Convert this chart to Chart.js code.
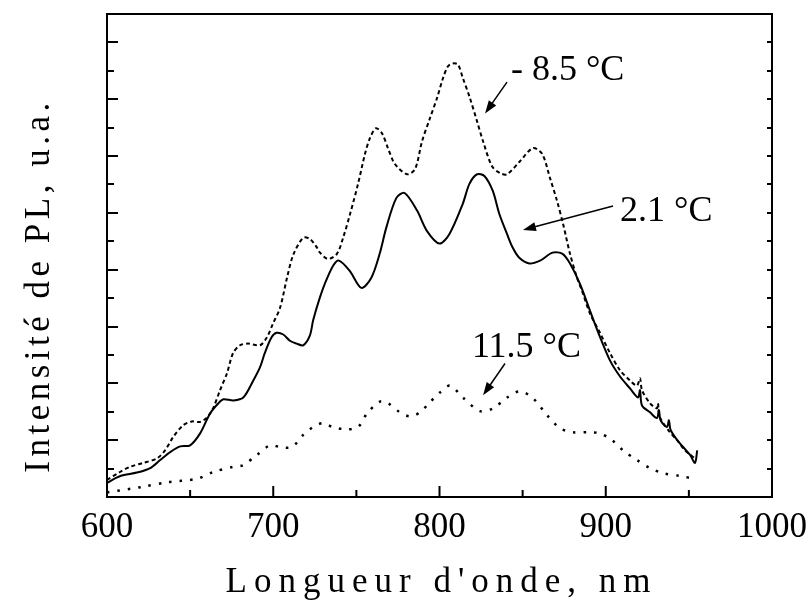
<!DOCTYPE html>
<html>
<head>
<meta charset="utf-8">
<script src="https://cdn.jsdelivr.net/npm/chart.js@4.4.1/dist/chart.umd.min.js"></script>
<style>
    html, body { margin: 0; padding: 0; background: #fff; }
</style>
</head>
<body>
<canvas id="chartPL" width="808" height="612"></canvas>
<script>
// longueurs d'onde (nm) et intensités (u.a.)
const wl85 = [600, 607.8, 613.8, 621.7, 630.1, 634.9, 639.7, 645.7, 651.1, 655.9, 660.2, 663.8, 668, 672.2, 675.8, 680, 684.8, 692, 696.2, 699.8, 704.1, 708.3, 711.9, 717.9, 722.1, 726.3, 728.1, 732.9, 738.3, 742, 746.2, 751, 755.2, 758.2, 761.8, 765.4, 769, 773.2, 780.5, 785.3, 789.5, 794.3, 798.5, 802.1, 805.1, 808.1, 811.1, 814.1, 818.3, 822.6, 826.2, 831.6, 836.4, 840.6, 848.4, 856.2, 861.7, 866.5, 870.7, 874.3, 878.5, 882.7, 885.7, 890.5, 896.5, 902.6, 908.6, 914.6, 918.8, 920.6, 921.8, 926.6, 930.8, 931.4, 932.6, 938.6, 942.9, 947.7, 953.7];
const pl85 = [0.30, 0.44, 0.53, 0.60, 0.68, 0.82, 1.05, 1.26, 1.33, 1.32, 1.40, 1.56, 1.88, 2.18, 2.53, 2.67, 2.70, 2.67, 2.81, 3.05, 3.33, 3.86, 4.25, 4.56, 4.54, 4.39, 4.30, 4.19, 4.28, 4.56, 4.98, 5.51, 6.04, 6.32, 6.49, 6.40, 6.14, 5.86, 5.68, 5.77, 6.26, 6.67, 7.02, 7.37, 7.58, 7.63, 7.61, 7.37, 7.02, 6.61, 6.26, 5.82, 5.70, 5.68, 5.91, 6.14, 6.04, 5.61, 5.21, 4.81, 4.28, 3.86, 3.63, 3.23, 2.89, 2.53, 2.23, 2.05, 1.96, 2.09, 1.88, 1.65, 1.56, 1.65, 1.40, 1.14, 1.00, 0.82, 0.68];

const wl21 = [600, 608, 618, 626, 632, 638, 644, 650, 656, 662, 667, 670, 676, 682, 688, 692, 695, 699, 702, 706, 710, 714, 718, 722, 724, 727.5, 731, 736, 739.5, 746, 753, 759, 764, 768, 774, 779, 786.5, 792.5, 800, 806, 814, 818, 822.6, 827, 832, 836, 840.6, 844, 848, 854, 860.5, 868, 874, 878.5, 884.5, 890.5, 896.5, 902.6, 908.6, 914.6, 919.4, 920.6, 921.8, 926.6, 930.8, 932, 933, 936.8, 938, 939, 943, 946.5, 950.7, 953.7, 955];
const pl21 = [0.25, 0.37, 0.43, 0.51, 0.65, 0.79, 0.89, 0.91, 1.12, 1.47, 1.65, 1.72, 1.70, 1.75, 2.05, 2.28, 2.54, 2.81, 2.89, 2.86, 2.75, 2.70, 2.67, 2.84, 3.11, 3.46, 3.75, 4.07, 4.16, 3.98, 3.68, 3.86, 4.28, 4.74, 5.26, 5.35, 5.04, 4.68, 4.46, 4.63, 5.16, 5.51, 5.68, 5.65, 5.39, 4.98, 4.63, 4.39, 4.21, 4.11, 4.16, 4.30, 4.28, 4.11, 3.75, 3.28, 2.82, 2.40, 2.12, 1.91, 1.75, 1.88, 1.61, 1.49, 1.39, 1.53, 1.35, 1.23, 1.35, 1.18, 1.00, 0.88, 0.74, 0.60, 0.82];

const wl115 = [600, 621.7, 636.1, 654.1, 663.8, 675.8, 681.8, 690.2, 698, 704.1, 711.3, 717.9, 723.9, 729.9, 735.9, 744.4, 751, 756.4, 764.2, 769, 776.2, 782.3, 788.3, 794.3, 800.3, 806.3, 814.1, 824.4, 832.2, 840.6, 848.4, 856.2, 864.7, 872.5, 880.3, 890.5, 896.5, 903.8, 910.4, 918.8, 926.6, 934.4, 944.7, 953.7];
const pl115 = [0.08, 0.18, 0.26, 0.32, 0.44, 0.53, 0.56, 0.74, 0.91, 0.88, 0.88, 1.09, 1.23, 1.30, 1.23, 1.19, 1.23, 1.47, 1.68, 1.65, 1.49, 1.42, 1.49, 1.67, 1.84, 1.96, 1.75, 1.51, 1.56, 1.75, 1.86, 1.74, 1.44, 1.21, 1.14, 1.14, 1.12, 1.00, 0.82, 0.65, 0.51, 0.42, 0.37, 0.32];

const temperatures = ['- 8.5 °C', '2.1 °C', '11.5 °C'];
const titreX = "Longueur d'onde, nm";
const titreY = 'Intensité de PL, u.a.';

const serif = '"Liberation Serif", "Times New Roman", serif';

const toPoints = (xs, ys) => xs.map((x, i) => ({ x: x, y: ys[i] }));

// étiquettes + flèches, en coordonnées des données
const annotations = [
    { texte: temperatures[0], tx: 843, ty: 7.33, de: [840.6, 7.30], a: [827.4, 6.75] },
    { texte: temperatures[1], tx: 908.6, ty: 4.86, de: [904.4, 5.12], a: [850.2, 4.70] },
    { texte: temperatures[2], tx: 819.5, ty: 2.46, de: [839.4, 2.35], a: [826.2, 1.79] }
];

const fleche = (ctx, x1, y1, x2, y2) => {
    const ang = Math.atan2(y2 - y1, x2 - x1);
    const L = 13, W = 4.5;
    ctx.beginPath();
    ctx.moveTo(x1, y1);
    ctx.lineTo(x2 - L * Math.cos(ang) * 0.8, y2 - L * Math.sin(ang) * 0.8);
    ctx.stroke();
    ctx.beginPath();
    ctx.moveTo(x2, y2);
    ctx.lineTo(x2 - L * Math.cos(ang) + W * Math.sin(ang), y2 - L * Math.sin(ang) - W * Math.cos(ang));
    ctx.lineTo(x2 - L * Math.cos(ang) - W * Math.sin(ang), y2 - L * Math.sin(ang) + W * Math.cos(ang));
    ctx.closePath();
    ctx.fill();
};

const cadre = {
    id: 'cadre',
    afterDatasetsDraw(chart) {
        const { ctx, chartArea: a, scales: { x, y } } = chart;
        ctx.save();
        ctx.strokeStyle = '#000';
        ctx.fillStyle = '#000';
        ctx.lineWidth = 2;
        ctx.strokeRect(a.left, a.top, a.right - a.left, a.bottom - a.top);

        // graduations vers l'intérieur
        ctx.beginPath();
        for (let v = 650; v < 1000; v += 50) {
            const px = x.getPixelForValue(v);
            const len = v % 100 === 0 ? 11 : 7;
            ctx.moveTo(px, a.bottom);
            ctx.lineTo(px, a.bottom - len);
        }
        for (let k = 1; k * 0.5 < y.max; k++) {
            const py = Math.round(y.getPixelForValue(k * 0.5));
            ctx.moveTo(a.left, py);
            ctx.lineTo(a.left + (k % 2 === 0 ? 11 : 7), py);
            ctx.moveTo(a.right, py);
            ctx.lineTo(a.right - 5, py);
        }
        ctx.stroke();

        // annotations
        ctx.lineWidth = 1.5;
        ctx.font = '36px ' + serif;
        ctx.textAlign = 'left';
        ctx.textBaseline = 'alphabetic';
        annotations.forEach(an => {
            ctx.fillText(an.texte, x.getPixelForValue(an.tx), y.getPixelForValue(an.ty));
            fleche(ctx,
                x.getPixelForValue(an.de[0]), y.getPixelForValue(an.de[1]),
                x.getPixelForValue(an.a[0]), y.getPixelForValue(an.a[1]));
        });

        // titres des axes
        ctx.font = '35px ' + serif;
        ctx.textAlign = 'center';
        ctx.textBaseline = 'middle';
        ctx.letterSpacing = '7px';
        ctx.fillText(titreX, (a.left + a.right) / 2 + 2, 583);
        ctx.letterSpacing = '4.5px';
        ctx.translate(40, (a.top + a.bottom) / 2 + 30);
        ctx.rotate(-Math.PI / 2);
        ctx.fillText(titreY, 0, 0);
        ctx.restore();
    }
};

const canvasPL = document.getElementById('chartPL');
const contextPL = canvasPL.getContext('2d');

const chartPL = new Chart(contextPL, {
    type: 'line',
    data: {
        datasets: [
            {
                label: temperatures[0],
                data: toPoints(wl85, pl85),
                borderColor: '#000',
                borderWidth: 2,
                borderDash: [4, 3],
                pointRadius: 0,
                tension: 0.3
            },
            {
                label: temperatures[1],
                data: toPoints(wl21, pl21),
                borderColor: '#000',
                borderWidth: 2,
                pointRadius: 0,
                tension: 0.3
            },
            {
                label: temperatures[2],
                data: toPoints(wl115, pl115),
                borderColor: '#000',
                borderWidth: 2.5,
                borderDash: [2.5, 8],
                pointRadius: 0,
                tension: 0.3
            }
        ]
    },
    options: {
        responsive: false,
        animation: false,
        layout: {
            padding: { top: 14, right: 36 }
        },
        plugins: {
            legend: { display: false },
            tooltip: { enabled: false }
        },
        scales: {
            x: {
                type: 'linear',
                min: 600,
                max: 1000,
                ticks: {
                    stepSize: 100,
                    color: '#000',
                    padding: 10,
                    font: { family: serif, size: 35 },
                    callback: (v) => String(v)
                },
                grid: { display: false, drawTicks: false },
                border: { display: false },
                afterFit: (scale) => {
                    scale.height = 115;
                    scale.paddingLeft = 0;
                    scale.paddingRight = 0;
                }
            },
            y: {
                type: 'linear',
                min: 0,
                max: 8.5,
                ticks: { display: false },
                grid: { display: false, drawTicks: false },
                border: { display: false },
                afterFit: (scale) => { scale.width = 107; }
            }
        }
    },
    plugins: [cadre]
});
</script>
</body>
</html>
